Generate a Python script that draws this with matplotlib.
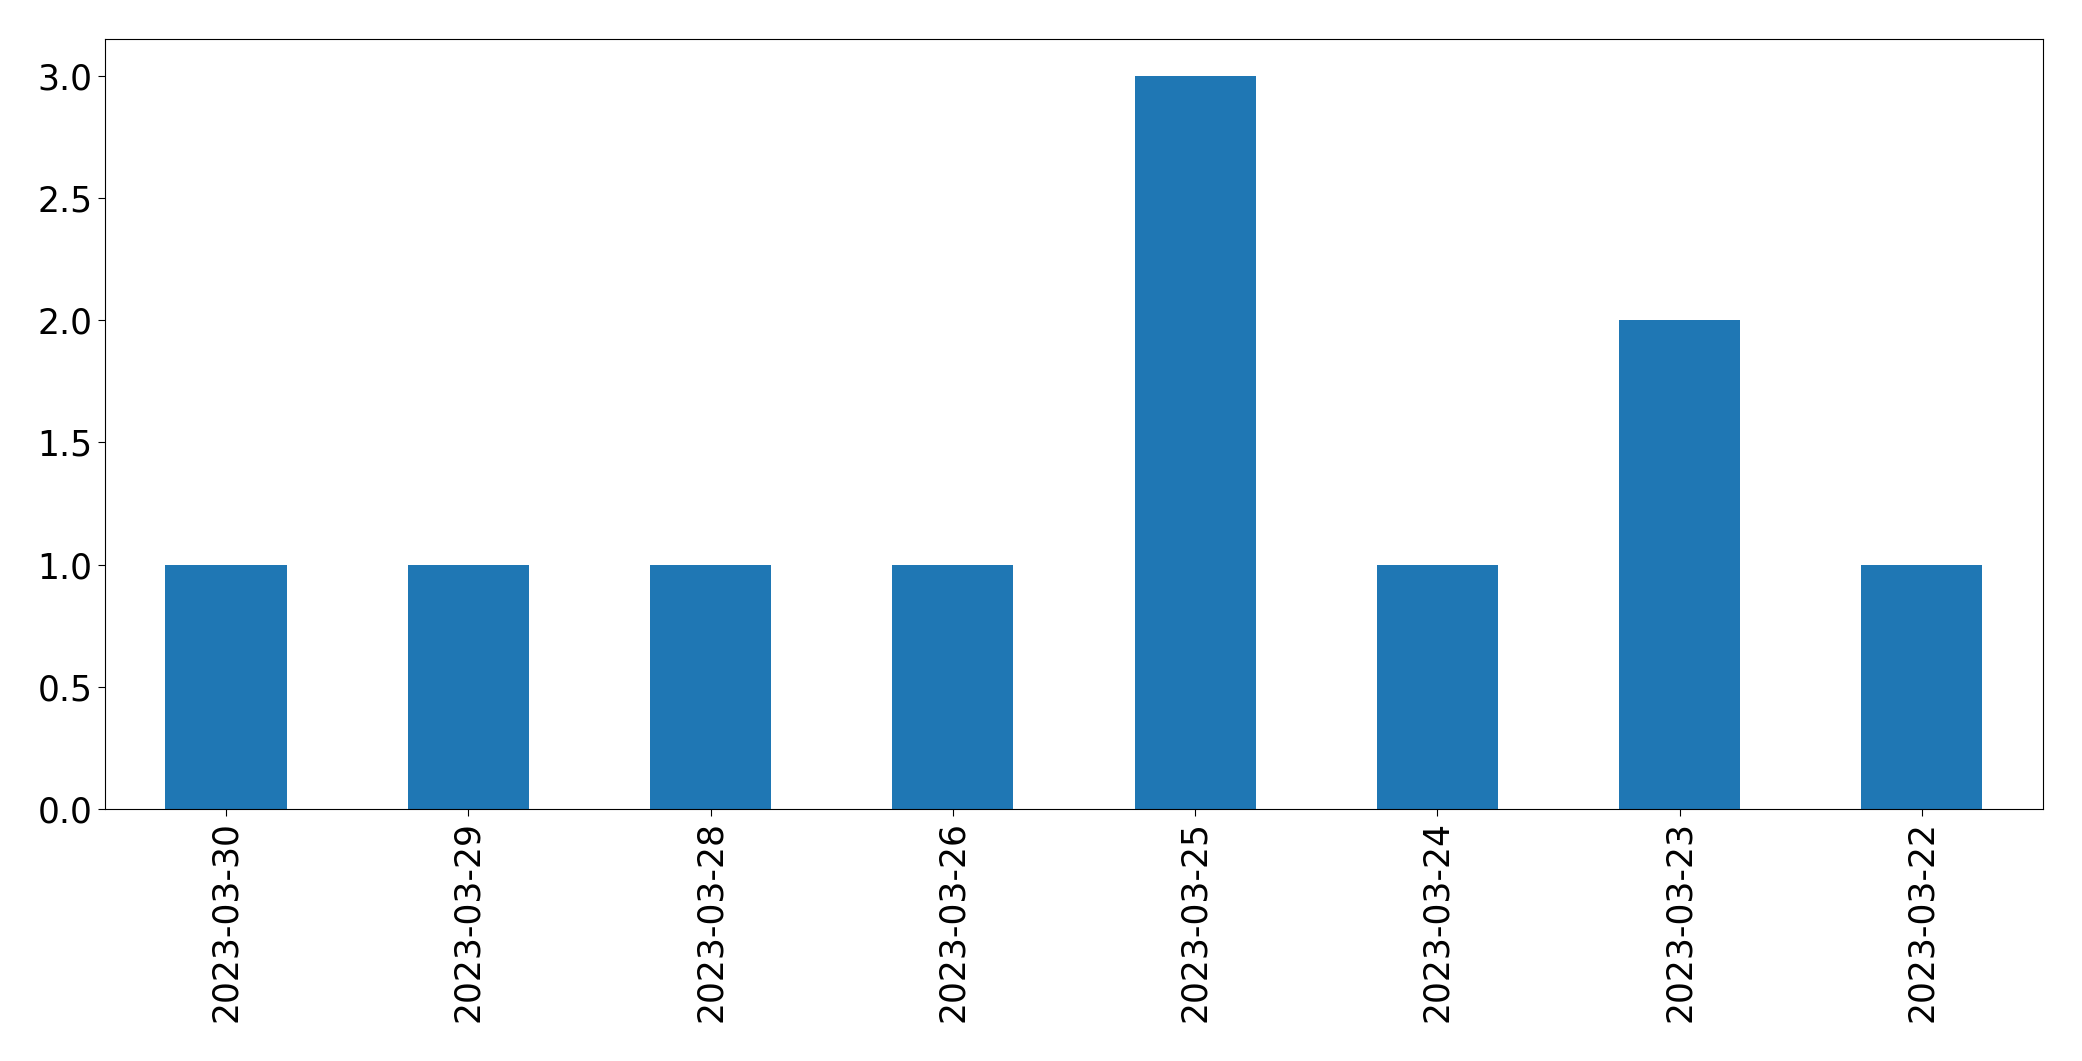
import matplotlib
matplotlib.use('Agg')
import matplotlib.pyplot as plt
import pandas as pd

# 每天的计数
dates = ['2023-03-30', '2023-03-29', '2023-03-28', '2023-03-26',
         '2023-03-25', '2023-03-24', '2023-03-23', '2023-03-22']
counts = [1, 1, 1, 1, 3, 1, 2, 1]

plt.rcParams['font.size'] = 25

fig, ax = plt.subplots(figsize=(20.82, 10.61), dpi=100)
s = pd.Series(counts, index=dates)
s.plot(kind='bar', ax=ax, color='#1f77b4')

ax.tick_params(axis='both', labelsize=24.9, length=5.3)
for sp in ax.spines.values():
    sp.set_color('black')
fig.subplots_adjust(left=0.0504, right=0.9813, top=0.963, bottom=0.2375)

plt.savefig('out.png', dpi=100)
